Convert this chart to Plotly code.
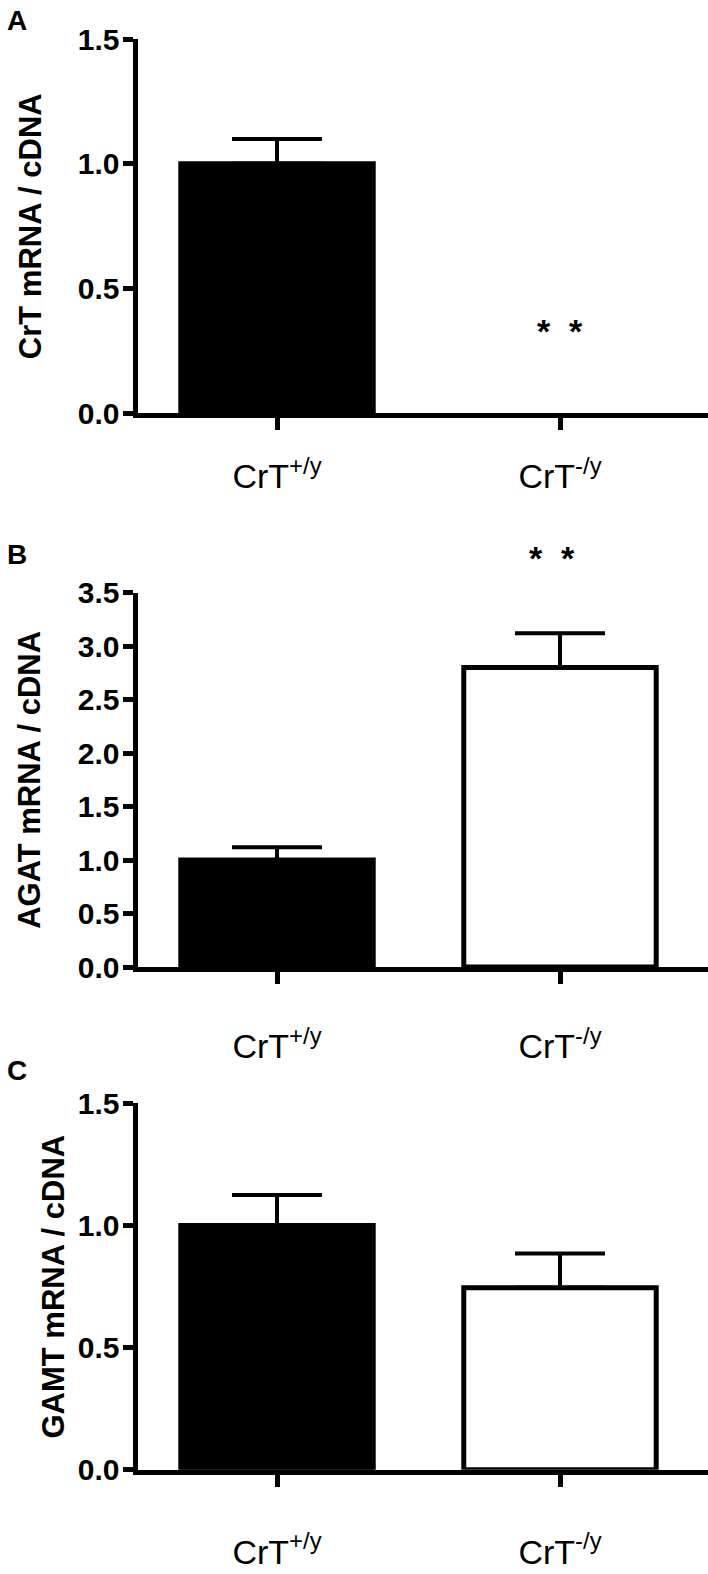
import plotly.graph_objects as go

# ---- data ----
categories = ["CrT<sup>+/y</sup>", "CrT<sup>-/y</sup>"]
cat_pos = [0, 1]

crt_values = [1.0, 0.0]
crt_err = [0.10]          # no error bar visible for the knockout group

agat_values = [1.0, 2.80]
agat_err = [0.12, 0.32]

gamt_values = [1.0, 0.745]
gamt_err = [0.125, 0.14]

panel_letters = ["A", "B", "C"]
y_titles = ["CrT mRNA / cDNA", "AGAT mRNA / cDNA", "GAMT mRNA / cDNA"]
y_ranges = [[0, 1.5], [0, 3.5], [0, 1.5]]
y_ticks = [[0.0, 0.5, 1.0, 1.5],
           [0.0, 0.5, 1.0, 1.5, 2.0, 2.5, 3.0, 3.5],
           [0.0, 0.5, 1.0, 1.5]]
star_text = "*\u00a0\u00a0*"
bar_fill = ["black", "white"]
bar_outline = [[5, 0], [5, 5], [5, 5]]

W, H = 708, 1574
FONT = "Liberation Sans, Arial, sans-serif"


def py(pix):
    return 1 - pix / H


# panel pixel geometry (top of axis, zero line)
panels_px = [(39.3, 413.0), (592.7, 967.0), (1103.3, 1469.7)]
x_dom = [137.5 / W, 1.0]
x_range = [-0.493, 1.523]
label_standoff = [17, 33, 36]
title_x = [30, 30, 53]
letter_y = [20, 555, 1070]

fig = go.Figure()
series = [(crt_values, crt_err), (agat_values, agat_err), (gamt_values, gamt_err)]

layout = dict(
    width=W, height=H,
    margin=dict(l=0, r=0, t=0, b=0, pad=0, autoexpand=False),
    paper_bgcolor="white", plot_bgcolor="white",
    showlegend=False,
)

annotations = []
for i, (vals, errs) in enumerate(series):
    sfx = "" if i == 0 else str(i + 1)
    fig.add_trace(go.Bar(
        x=cat_pos, y=vals, width=0.68,
        marker=dict(color=bar_fill, line=dict(color="black", width=bar_outline[i])),
        error_y=dict(type="data", array=errs, arrayminus=[0] * len(errs), symmetric=False,
                     thickness=4, width=45, color="black"),
        xaxis="x" + sfx, yaxis="y" + sfx, cliponaxis=False,
    ))
    top, zero = panels_px[i]
    layout["xaxis" + sfx] = dict(
        domain=x_dom, range=x_range, anchor="y" + sfx,
        tickvals=cat_pos, ticktext=categories, automargin=False,
        showline=True, linewidth=5, linecolor="black",
        ticks="outside", ticklen=12, tickwidth=5, tickcolor="black",
        showgrid=False, zeroline=False,
        tickfont=dict(family=FONT, size=34, color="black"),
        ticklabelstandoff=label_standoff[i],
    )
    layout["yaxis" + sfx] = dict(
        domain=[py(zero), py(top)], range=y_ranges[i], anchor="x" + sfx,
        tickvals=y_ticks[i], tickformat=".1f", automargin=False,
        showline=True, linewidth=5, linecolor="black",
        ticks="outside", ticklen=10, tickwidth=5, tickcolor="black",
        showgrid=False, zeroline=False,
        tickfont=dict(family=FONT, size=30, color="black", weight="bold"),
        ticklabelstandoff=-3,
    )
    annotations.append(dict(
        text=y_titles[i], textangle=-90, showarrow=False,
        xref="paper", x=title_x[i] / W, xanchor="center",
        yref="y" + sfx + " domain", y=0.5, yanchor="middle",
        font=dict(family=FONT, size=31, color="black", weight="bold"),
    ))
    annotations.append(dict(
        text=panel_letters[i], showarrow=False,
        xref="paper", x=5 / W, xanchor="left",
        yref="paper", y=py(letter_y[i]), yanchor="middle",
        font=dict(family=FONT, size=28, color="black", weight="bold"),
    ))

# significance markers
annotations.append(dict(
    text=star_text, showarrow=False, xref="x", x=1, yref="y", y=0.33,
    xanchor="center", yanchor="middle",
    font=dict(family=FONT, size=34, color="black", weight="bold"),
))
annotations.append(dict(
    text=star_text, showarrow=False, xref="x2", x=0.97, yref="y2 domain",
    y=(967.0 - 558) / (967.0 - 592.7),
    xanchor="center", yanchor="middle",
    font=dict(family=FONT, size=34, color="black", weight="bold"),
))

layout["annotations"] = annotations
fig.update_layout(**layout)
fig.write_html(
    "out.html",
    config={"displayModeBar": False},
    post_script="document.body.style.margin='0';document.body.style.overflow='hidden';",
)
